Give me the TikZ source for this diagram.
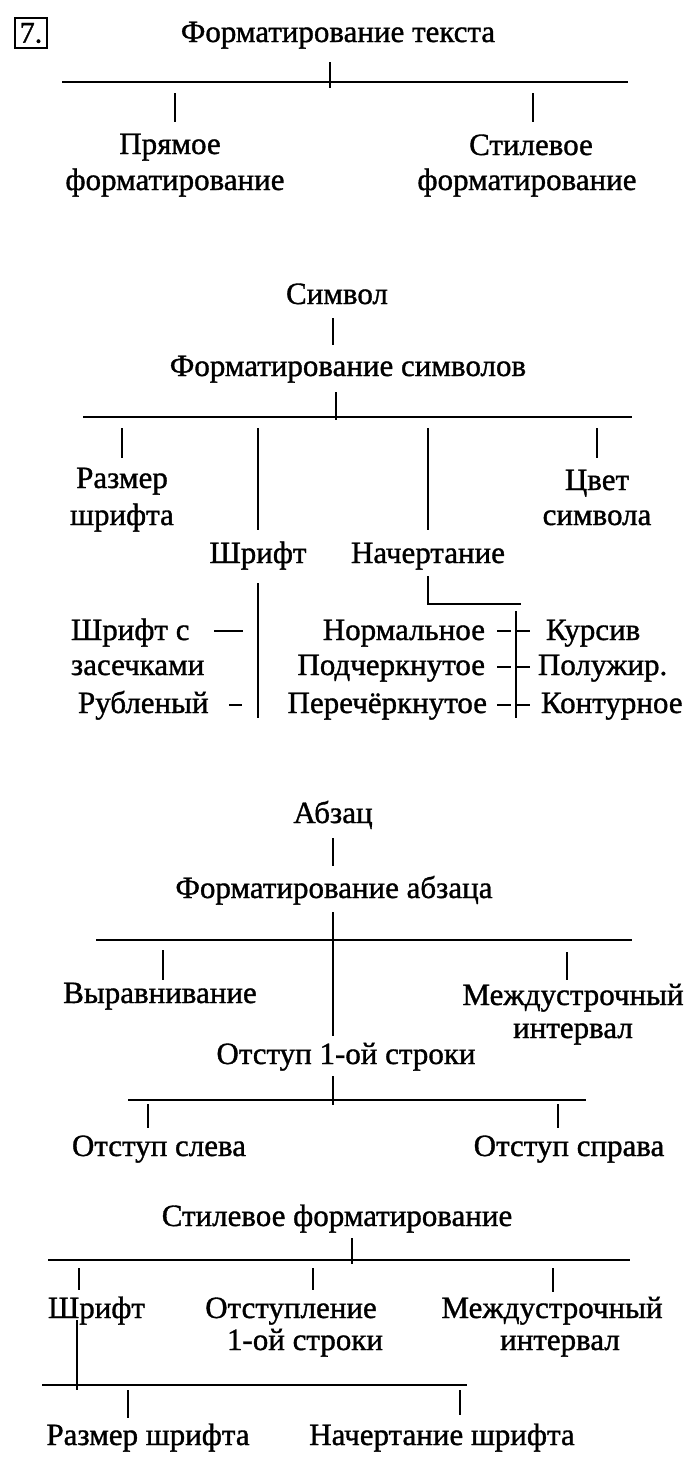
\documentclass[tikz,border=0pt]{standalone}
\usepackage{fontspec}
\setmainfont[FakeBold=1.1]{Liberation Serif}
\begin{document}
\begin{tikzpicture}[x=1pt,y=-1pt,line width=2pt,
  lbl/.style={font=\fontsize{31}{36}\selectfont,anchor=base,inner sep=0pt},
  lblw/.style={lbl,anchor=base west},
  lble/.style={lbl,anchor=base east},
  link/.style={line width=2pt},
  thinlink/.style={line width=1.4pt}]
\useasboundingbox (0,0) rectangle (700,1470);
% ---------- section 1
\node[draw,line width=1.3pt,font=\fontsize{30}{33}\selectfont,inner sep=1.5pt,minimum width=32pt,minimum height=30pt] (num) at (31,33) {7.};
\node[lbl] (ft) at (338,42) {Форматирование текста};
\node[lbl] (pr1) at (170,154) {Прямое};
\node[lbl] (pr2) at (175,190) {форматирование};
\node[lbl] (st1) at (531,155) {Стилевое};
\node[lbl] (st2) at (527,190) {форматирование};
\coordinate (a1) at (330,62); \coordinate (a2) at (330,88);
\coordinate (h1l) at (62,82); \coordinate (h1r) at (628,82);
\coordinate (p1) at (175,93); \coordinate (p2) at (175,122);
\coordinate (s1) at (533,93); \coordinate (s2) at (533,122);
\draw[link] (a1)--(a2); \draw[link] (h1l)--(h1r);
\draw[link] (p1)--(p2); \draw[link] (s1)--(s2);
% ---------- section 2
\node[lbl] (sym) at (337,304) {Символ};
\node[lbl] (fs) at (348,376) {Форматирование символов};
\node[lbl] (rz1) at (122,488) {Размер};
\node[lbl] (rz2) at (122,525) {шрифта};
\node[lbl] (cv1) at (597,490) {Цвет};
\node[lbl] (cv2) at (597,525) {символа};
\node[lbl] (shr) at (258,563) {Шрифт};
\node[lbl] (nach) at (428,563) {Начертание};
\node[lblw] (sz1) at (70,640) {Шрифт с};
\node[lblw] (sz2) at (70,675) {засечками};
\node[lblw] (rub) at (77,713) {Рубленый};
\node[lble] (norm) at (486,640) {Нормальное};
\node[lble] (podch) at (486,675) {Подчеркнутое};
\node[lble] (perech) at (488,713) {Перечёркнутое};
\node[lblw] (kurs) at (545,640) {Курсив};
\node[lblw] (polu) at (537,675) {Полужир.};
\node[lblw] (kont) at (540,713) {Контурное};
\coordinate (b1) at (333,318); \coordinate (b2) at (333,345);
\coordinate (b3) at (336,392); \coordinate (b4) at (336,420);
\coordinate (h2l) at (83,417); \coordinate (h2r) at (632,417);
\coordinate (r1) at (122,428); \coordinate (r2) at (122,458);
\coordinate (sh1) at (258,428); \coordinate (sh2) at (258,530);
\coordinate (n1) at (428,428); \coordinate (n2) at (428,530);
\coordinate (c1) at (597,428); \coordinate (c2) at (597,458);
\coordinate (sh3) at (258,583); \coordinate (sh4) at (258,718);
\coordinate (n3) at (428,576); \coordinate (n4) at (428,604); \coordinate (n5) at (521,604);
\coordinate (v1) at (516,611); \coordinate (v2) at (516,718);
\coordinate (ds1) at (214,631); \coordinate (ds2) at (243,631);
\coordinate (dr1) at (229,705); \coordinate (dr2) at (242,705);
\draw[link] (b1)--(b2); \draw[link] (b3)--(b4); \draw[link] (h2l)--(h2r);
\draw[link] (r1)--(r2); \draw[link] (sh1)--(sh2); \draw[link] (n1)--(n2); \draw[link] (c1)--(c2);
\draw[link] (sh3)--(sh4);
\draw[link] (n3)--(n4)--(n5);
\draw[link] (v1)--(v2);
\draw[thinlink] (ds1)--(ds2);
\draw[thinlink] (dr1)--(dr2);
\foreach \yy in {631,667,705}{
  \coordinate (dl\yy) at (497,\yy); \coordinate (dm\yy) at (511,\yy);
  \coordinate (dn\yy) at (516,\yy); \coordinate (do\yy) at (530,\yy);
  \draw[thinlink] (dl\yy)--(dm\yy);
  \draw[thinlink] (dn\yy)--(do\yy);
}
% ---------- section 3
\node[lbl] (abz) at (333,823) {Абзац};
\node[lbl] (fa) at (334,898) {Форматирование абзаца};
\node[lbl] (vyr) at (160,1003) {Выравнивание};
\node[lbl] (md1) at (573,1005) {Междустрочный};
\node[lbl] (md2) at (573,1038) {интервал};
\node[lbl] (ots) at (346,1064) {Отступ 1-ой строки};
\node[lbl] (osl) at (159,1156) {Отступ слева};
\node[lbl] (osp) at (569,1156) {Отступ справа};
\coordinate (d1) at (333,838); \coordinate (d2) at (333,866);
\coordinate (d3) at (333,912); \coordinate (d4) at (333,1036);
\coordinate (h3l) at (96,940); \coordinate (h3r) at (632,940);
\coordinate (e1) at (163,950); \coordinate (e2) at (163,980);
\coordinate (f1) at (567,952); \coordinate (f2) at (567,980);
\coordinate (g1) at (333,1076); \coordinate (g2) at (333,1105);
\coordinate (h4l) at (128,1100); \coordinate (h4r) at (586,1100);
\coordinate (k1) at (148,1104); \coordinate (k2) at (148,1128);
\coordinate (m1) at (558,1104); \coordinate (m2) at (558,1128);
\draw[link] (d1)--(d2); \draw[link] (d3)--(d4); \draw[link] (h3l)--(h3r);
\draw[link] (e1)--(e2); \draw[link] (f1)--(f2);
\draw[link] (g1)--(g2); \draw[link] (h4l)--(h4r);
\draw[link] (k1)--(k2); \draw[link] (m1)--(m2);
% ---------- section 4
\node[lbl] (sf) at (337,1226) {Стилевое форматирование};
\node[lblw] (shr4) at (47,1318) {Шрифт};
\node[lbl] (otl1) at (291,1318) {Отступление};
\node[lbl] (otl2) at (305,1350) {1-ой строки};
\node[lbl] (mi1) at (552,1318) {Междустрочный};
\node[lbl] (mi2) at (560,1350) {интервал};
\node[lbl] (rsh) at (148,1445) {Размер шрифта};
\node[lbl] (nsh) at (442,1445) {Начертание шрифта};
\coordinate (q1) at (352,1238); \coordinate (q2) at (352,1264);
\coordinate (h5l) at (48,1260); \coordinate (h5r) at (630,1260);
\coordinate (u1) at (79,1268); \coordinate (u2) at (79,1290);
\coordinate (w1) at (313,1268); \coordinate (w2) at (313,1290);
\coordinate (z1) at (553,1268); \coordinate (z2) at (553,1292);
\coordinate (y1) at (77,1320); \coordinate (y2) at (77,1390);
\coordinate (h6l) at (42,1385); \coordinate (h6r) at (467,1385);
\coordinate (o1) at (128,1390); \coordinate (o2) at (128,1418);
\coordinate (o3) at (460,1390); \coordinate (o4) at (460,1415);
\draw[link] (q1)--(q2); \draw[link] (h5l)--(h5r);
\draw[link] (u1)--(u2); \draw[link] (w1)--(w2); \draw[link] (z1)--(z2);
\draw[link] (y1)--(y2); \draw[link] (h6l)--(h6r);
\draw[link] (o1)--(o2); \draw[link] (o3)--(o4);
\end{tikzpicture}
\end{document}
